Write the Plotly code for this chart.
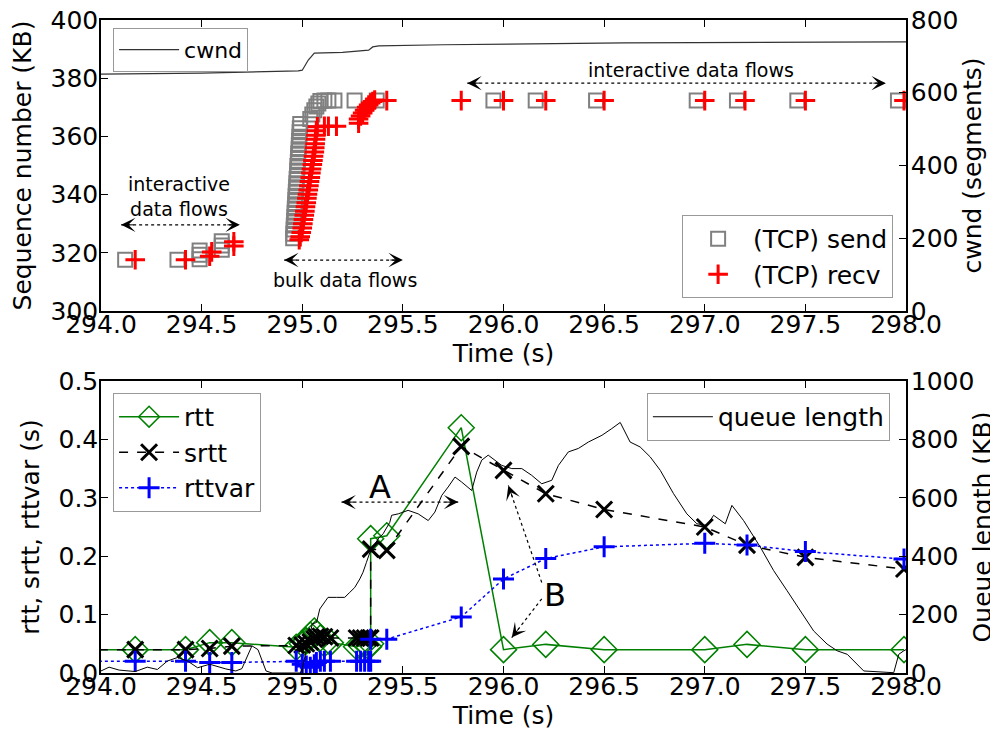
import plotly.graph_objects as go

# ---------------- data ----------------
cwnd_t = [294.0, 294.5, 294.98, 295.0, 295.03, 295.06, 295.2, 295.25, 295.33, 295.35, 295.38, 295.7, 296.1, 296.6, 297.6, 298.0]
cwnd_seg = [651, 654, 660, 662, 690, 709, 711, 713, 717, 726, 729, 732, 734, 737, 739, 740]

send_t = [294.12, 294.38, 294.49, 294.49, 294.49, 294.60, 294.60, 294.60,
          294.955, 294.956, 294.957, 294.958, 294.960, 294.961, 294.962, 294.963, 294.965, 294.966,
          294.967, 294.968, 294.970, 294.971, 294.972, 294.974, 294.975, 294.976, 294.978, 294.979,
          294.980, 294.982, 294.983, 294.984, 294.986, 294.987, 294.988, 294.990,
          295.04, 295.05, 295.06, 295.07, 295.08, 295.09, 295.11, 295.13, 295.16, 295.26, 295.37,
          295.95, 296.16, 296.46, 296.96, 297.16, 297.46, 297.96]
send_kb = [317.6, 317.6, 317.8, 319.3, 320.8, 321.0, 322.5, 324.0,
           325.0, 326.5, 328.0, 329.4, 330.9, 332.3, 333.8, 335.2, 336.7, 338.1,
           339.6, 341.0, 342.5, 343.9, 345.4, 346.8, 348.3, 349.8, 351.2, 352.7,
           354.1, 355.6, 357.0, 358.5, 359.9, 361.4, 362.8, 364.3,
           366.0, 367.5, 369.0, 370.3, 371.3, 372.2, 372.3, 372.3, 372.3, 372.3, 372.3,
           372.3, 372.3, 372.3, 372.3, 372.3, 372.3, 372.3]

recv_t = [294.17, 294.42, 294.54, 294.55, 294.66, 294.66,
          294.985, 294.99, 294.995, 295.0, 295.003, 295.006, 295.01, 295.013, 295.016, 295.02,
          295.023, 295.026, 295.03, 295.033, 295.036, 295.04, 295.043, 295.046, 295.05, 295.053,
          295.056, 295.06, 295.062, 295.064, 295.066, 295.068, 295.07, 295.075,
          295.11, 295.13, 295.17,
          295.28, 295.28, 295.29, 295.30, 295.31, 295.32, 295.33, 295.34, 295.35, 295.36,
          295.42, 295.79, 296.0, 296.21, 296.5, 297.0, 297.2, 297.5, 297.99]
recv_kb = [317.6, 317.6, 318.8, 320.3, 322.3, 323.8,
           324.5, 325.5, 327.0, 328.5, 330.0, 331.4, 332.9, 334.3, 335.8, 337.2,
           338.7, 340.1, 341.6, 343.0, 344.5, 345.9, 347.4, 348.8, 350.3, 351.7,
           353.2, 354.6, 356.1, 357.5, 359.0, 360.4, 361.9, 363.3,
           363.5, 363.5, 363.5,
           364.5, 366.0, 367.0, 368.0, 369.0, 370.0, 370.8, 371.5, 372.0, 372.5,
           372.3, 372.3, 372.3, 372.3, 372.3, 372.3, 372.3, 372.3, 372.3]

rtt_t = [293.9, 294.17, 294.42, 294.54, 294.65, 294.97, 295.00, 295.02, 295.04, 295.06, 295.07,
         295.09, 295.11, 295.14, 295.27, 295.29, 295.31, 295.33, 295.34, 295.34, 295.42, 295.79,
         296.00, 296.21, 296.50, 297.00, 297.21, 297.50, 297.99]
rtt_s = [0.04, 0.04, 0.04, 0.052, 0.052, 0.044, 0.05, 0.055, 0.065, 0.072, 0.068,
         0.06, 0.05, 0.052, 0.045, 0.048, 0.05, 0.045, 0.05, 0.23, 0.235, 0.42,
         0.04, 0.049, 0.04, 0.04, 0.049, 0.04, 0.04]
srtt_s = [0.04, 0.04, 0.04, 0.042, 0.046, 0.047, 0.048, 0.05, 0.053, 0.058, 0.062,
          0.063, 0.062, 0.06, 0.06, 0.06, 0.06, 0.06, 0.06, 0.212, 0.21, 0.388,
          0.347, 0.307, 0.28, 0.25, 0.219, 0.198, 0.178]
rttvar_s = [0.02, 0.02, 0.02, 0.018, 0.018, 0.02, 0.015, 0.012, 0.01, 0.014, 0.018,
            0.02, 0.02, 0.02, 0.02, 0.02, 0.02, 0.02, 0.02, 0.058, 0.058, 0.096,
            0.161, 0.196, 0.216, 0.222, 0.219, 0.208, 0.195]

queue_t = [294.0, 294.04, 294.09, 294.17, 294.23, 294.28, 294.33, 294.38, 294.43, 294.48,
           294.54, 294.62, 294.67, 294.70, 294.75, 294.78, 294.82, 294.85, 294.99, 295.0,
           295.05, 295.071, 295.087, 295.128, 295.170, 295.211, 295.236, 295.261, 295.286, 295.302,
           295.319, 295.336, 295.377, 295.402, 295.435, 295.444, 295.477, 295.526, 295.576, 295.626,
           295.659, 295.693, 295.725, 295.759, 295.792, 295.842, 295.867, 295.892, 295.924, 295.958,
           295.991, 296.041, 296.091, 296.140, 296.190, 296.240, 296.273, 296.322, 296.372, 296.422,
           296.489, 296.538, 296.580, 296.629, 296.679, 296.729, 296.779, 296.845, 296.911, 296.961,
           297.011, 297.044, 297.077, 297.102, 297.135, 297.193, 297.276, 297.342, 297.409, 297.475,
           297.541, 297.608, 297.658, 297.708, 297.757, 297.790, 297.939, 297.964, 297.989, 298.0]
queue_kb = [7, 20, 10, 5, 20, 12, 41, 53, 41, 18,
            30, 14, 7, 15, 93, 80, 7, 0, 0, 15,
            168, 173, 219, 259, 259, 259, 276, 293, 322, 345,
            379, 413, 459, 477, 516, 540, 545, 557, 545, 522,
            551, 608, 637, 671, 654, 625, 688, 729, 746, 729,
            711, 700, 700, 677, 648, 660, 711, 757, 769, 791,
            814, 837, 858, 791, 774, 740, 694, 614, 545, 511,
            505, 540, 522, 511, 574, 522, 431, 351, 282, 213,
            144, 99, 76, 64, 30, 7, 1, 64, 76, 80]

time_ticks = [294.0, 294.5, 295.0, 295.5, 296.0, 296.5, 297.0, 297.5, 298.0]

# ---------------- figure ----------------
FONT = "DejaVu Sans"
FS = 25
fig = go.Figure()

fig.add_trace(go.Scatter(x=cwnd_t, y=cwnd_seg, xaxis="x", yaxis="y2", mode="lines",
                         line=dict(color="#333333", width=1.2), name="cwnd", legend="legend",
                         showlegend=True))
fig.add_trace(go.Scatter(x=send_t, y=send_kb, xaxis="x", yaxis="y", mode="markers",
                         marker=dict(symbol="square-open", size=14, color="#808080",
                                     line=dict(width=2, color="#808080")),
                         name="(TCP) send", legend="legend2"))
fig.add_trace(go.Scatter(x=recv_t, y=recv_kb, xaxis="x", yaxis="y", mode="markers",
                         marker=dict(symbol="cross-thin", size=14, color="#ff0000",
                                     line=dict(width=3, color="#ff0000")),
                         name="(TCP) recv", legend="legend2"))

fig.add_trace(go.Scatter(x=queue_t, y=queue_kb, xaxis="x2", yaxis="y4", mode="lines",
                         line=dict(color="#000000", width=1), name="queue length", legend="legend4"))
fig.add_trace(go.Scatter(x=rtt_t, y=rtt_s, xaxis="x2", yaxis="y3", mode="lines+markers",
                         line=dict(color="#008000", width=1.5),
                         marker=dict(symbol="diamond-open", size=20, color="#008000",
                                     line=dict(width=1.5, color="#008000")),
                         name="rtt", legend="legend3"))
fig.add_trace(go.Scatter(x=rtt_t, y=srtt_s, xaxis="x2", yaxis="y3", mode="lines+markers",
                         line=dict(color="#000000", width=1.5, dash="dash"),
                         marker=dict(symbol="x-thin", size=16, color="#000000",
                                     line=dict(width=3, color="#000000")),
                         name="srtt", legend="legend3"))
fig.add_trace(go.Scatter(x=rtt_t, y=rttvar_s, xaxis="x2", yaxis="y3", mode="lines+markers",
                         line=dict(color="#0000ff", width=1.5, dash="dot"),
                         marker=dict(symbol="cross-thin", size=15, color="#0000ff",
                                     line=dict(width=3, color="#0000ff")),
                         name="rttvar", legend="legend3"))

axis_common = dict(showline=True, linecolor="black", linewidth=1.5, ticks="inside",
                   ticklen=7, tickcolor="black", showgrid=False, zeroline=False,
                   automargin=False, ticklabeloverflow="allow",
                   tickfont=dict(family=FONT, size=FS, color="black"))

xcommon = dict(axis_common, range=[294.0, 298.0], tickvals=time_ticks, tickformat=".1f",
               mirror="ticks", ticklabelstandoff=-10)
fig.update_layout(
    xaxis=dict(xcommon, anchor="y", domain=[0, 1],
               title=dict(text="Time (s)", font=dict(family=FONT, size=FS), standoff=5)),
    yaxis=dict(axis_common, domain=[0.5544, 1], range=[300, 400], dtick=20, anchor="x",
               ticklabelstandoff=-4,
               title=dict(text="Sequence number (KB)", font=dict(family=FONT, size=FS), standoff=12)),
    yaxis2=dict(axis_common, overlaying="y", side="right", range=[0, 800], dtick=200, anchor="x",
                ticklabelstandoff=-2,
                title=dict(text="cwnd (segments)", font=dict(family=FONT, size=FS), standoff=0)),
    xaxis2=dict(xcommon, anchor="y3", domain=[0, 1],
                title=dict(text="Time (s)", font=dict(family=FONT, size=FS), standoff=5)),
    yaxis3=dict(axis_common, domain=[0, 0.4472], range=[0, 0.5], dtick=0.1, tickformat=".1f",
                anchor="x2", ticklabelstandoff=-4,
                title=dict(text="rtt, srtt, rttvar (s)", font=dict(family=FONT, size=FS), standoff=12)),
    yaxis4=dict(axis_common, overlaying="y3", side="right", range=[0, 1000], dtick=200, anchor="x2",
                ticklabelstandoff=-2,
                title=dict(text="Queue length (KB)", font=dict(family=FONT, size=FS), standoff=0)),
)

leg_common = dict(bgcolor="white", bordercolor="#999999", borderwidth=1, itemwidth=60,
                  font=dict(family=FONT, size=FS, color="black"))
fig.update_layout(
    showlegend=True,
    legend=dict(leg_common, x=0.015, y=0.988, xanchor="left", yanchor="top",
                font=dict(family=FONT, size=22, color="black")),
    legend2=dict(leg_common, x=0.984, y=0.5743, xanchor="right", yanchor="bottom"),
    legend3=dict(leg_common, x=0.015, y=0.4288, xanchor="left", yanchor="top"),
    legend4=dict(leg_common, x=0.98, y=0.4288, xanchor="right", yanchor="top"),
)

shapes = []
annotations = []


def dotted_arrow(xr, yr, x0, y0, x1, y1, heads):
    shapes.append(dict(type="line", xref=xr, yref=yr, x0=x0, y0=y0, x1=x1, y1=y1,
                       line=dict(color="black", width=1.2, dash="dot")))
    for (hx, hy, ax, ay) in heads:
        annotations.append(dict(xref=xr, yref=yr, x=hx, y=hy, ax=ax, ay=ay, text="",
                                showarrow=True, arrowhead=3, arrowsize=2.4, arrowwidth=1,
                                arrowcolor="black"))


ann_font = dict(family=FONT, size=19, color="black")
# top panel
dotted_arrow("x", "y", 294.10, 329.6, 294.69, 329.6, [(294.10, 329.6, 14, 0), (294.69, 329.6, -14, 0)])
annotations.append(dict(xref="x", yref="y", x=294.39, y=339.5, text="interactive<br>data flows",
                        showarrow=False, font=ann_font))
dotted_arrow("x", "y", 294.91, 317.5, 295.50, 317.5, [(294.91, 317.5, 14, 0), (295.50, 317.5, -14, 0)])
annotations.append(dict(xref="x", yref="y", x=295.21, y=310.7, text="bulk data flows",
                        showarrow=False, font=ann_font))
dotted_arrow("x", "y", 295.82, 378.3, 297.90, 378.3, [(295.82, 378.3, 14, 0), (297.90, 378.3, -14, 0)])
annotations.append(dict(xref="x", yref="y", x=296.93, y=382.8, text="interactive data flows",
                        showarrow=False, font=ann_font))
# bottom panel
dotted_arrow("x2", "y3", 295.195, 0.2926, 295.775, 0.2926,
             [(295.195, 0.2926, 14, 0), (295.775, 0.2926, -14, 0)])
annotations.append(dict(xref="x2", yref="y3", x=295.385, y=0.318, text="A",
                        showarrow=False, font=dict(family=FONT, size=32, color="black")))
dotted_arrow("x2", "y3", 296.19, 0.155, 296.024, 0.321, [(296.024, 0.321, 4.6, 13.2)])
dotted_arrow("x2", "y3", 296.19, 0.127, 296.041, 0.0607, [(296.041, 0.0607, 8.6, -11)])
annotations.append(dict(xref="x2", yref="y3", x=296.256, y=0.134, text="B",
                        showarrow=False, font=dict(family=FONT, size=32, color="black")))

fig.update_layout(shapes=shapes, annotations=annotations)

# the page body adds an 8px margin, so the figure is 8px smaller and shifted margins compensate
fig.update_layout(width=990, height=725, margin=dict(l=93, r=92, t=12, b=60, autoexpand=False),
                  paper_bgcolor="white", plot_bgcolor="white",
                  font=dict(family=FONT, size=FS, color="black"))

fig.write_html("out.html")
